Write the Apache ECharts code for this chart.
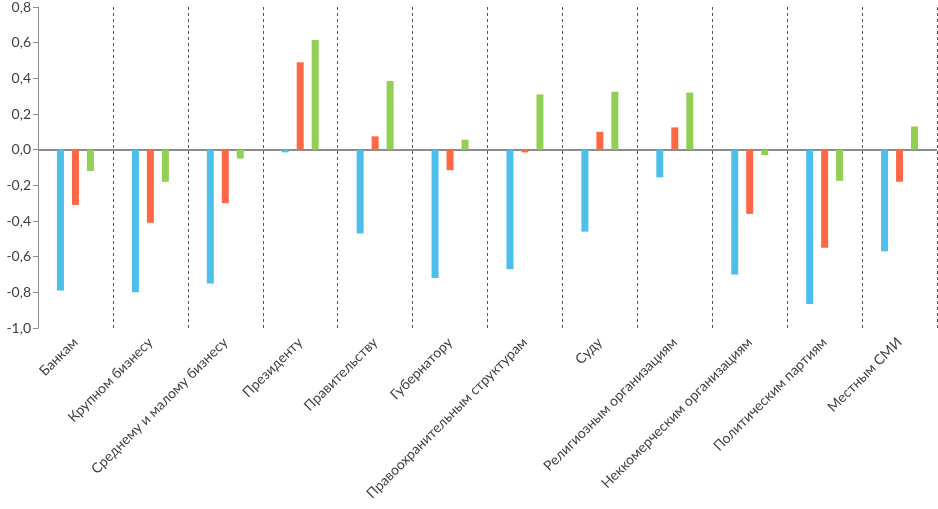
<!DOCTYPE html>
<html><head><meta charset="utf-8">
<script src="https://cdn.jsdelivr.net/npm/echarts@6/dist/echarts.min.js"></script>
<style>html,body{margin:0;padding:0;background:#fff}#c{width:938px;height:509px}</style>
</head><body><div id="c"></div>
<script>
const categories = ['Банкам','Крупном бизнесу','Среднему и малому бизнесу','Президенту','Правительству','Губернатору','Правоохранительным структурам','Суду','Религиозным организациям','Неккомерческим организациям','Политическим партиям','Местным СМИ'];
const seriesBlue  = [-0.79,-0.80,-0.75,-0.015,-0.47,-0.72,-0.67,-0.46,-0.155,-0.70,-0.865,-0.57];
const seriesRed   = [-0.31,-0.41,-0.30,0.49,0.075,-0.115,-0.015,0.10,0.125,-0.36,-0.55,-0.18];
const seriesGreen = [-0.12,-0.18,-0.05,0.615,0.385,0.056,0.31,0.325,0.32,-0.03,-0.175,0.13];
const font = 'Lato';
const chart = echarts.init(document.getElementById('c'));
const mk = (data, color, withZero) => ({
  type:'bar', data, barWidth:7, barGap:'114%', itemStyle:{color},
  markLine: withZero ? {silent:true, symbol:'none', label:{show:false}, z:1,
    lineStyle:{color:'#8c8c8c', width:2, type:'solid'}, data:[{yAxis:0}]} : undefined
});
chart.setOption({
  animation:false,
  grid:{left:38, right:1, top:6, bottom:181},
  xAxis:{type:'category', data:categories,
    axisLine:{show:false, onZero:false},
    axisTick:{show:false},
    splitLine:{show:true, lineStyle:{color:'#555', type:[3,3], width:1}},
    axisLabel:{rotate:45, margin:12, fontFamily:font, fontSize:14, color:'#404040', interval:0}},
  yAxis:{type:'value', min:-1, max:0.8, interval:0.2,
    axisLine:{show:true, lineStyle:{color:'#8c8c8c', width:1}},
    axisTick:{show:true, length:5, lineStyle:{color:'#8c8c8c'}},
    splitLine:{show:false},
    axisLabel:{fontFamily:font, fontSize:14, color:'#404040', margin:7,
      formatter:v => v.toFixed(1).replace('.', ',')}},
  series:[mk(seriesBlue,'#4DBFEA',true), mk(seriesRed,'#FF6847'), mk(seriesGreen,'#92CF55')]
});
</script></body></html>
